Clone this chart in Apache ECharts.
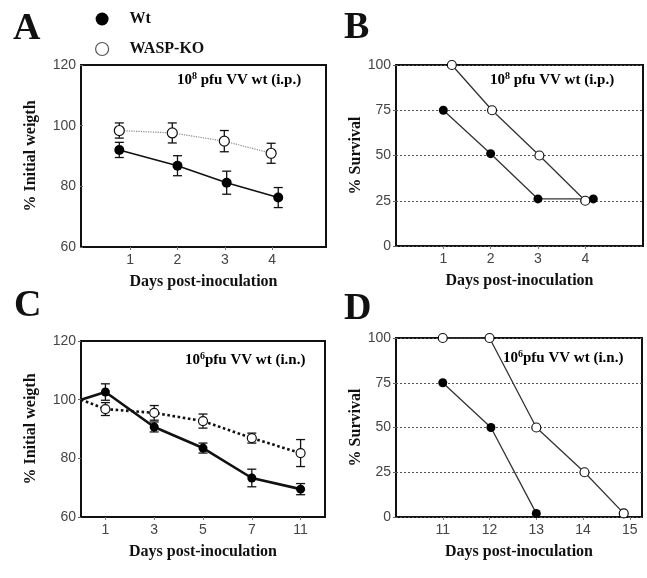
<!DOCTYPE html>
<html>
<head>
<meta charset="utf-8">
<script src="https://cdn.jsdelivr.net/npm/echarts@6/dist/echarts.min.js"></script>
<style>
  html, body { margin: 0; padding: 0; background: #fff; }
  #chart { width: 647px; height: 578px; }
</style>
</head>
<body>
<div id="chart"></div>
<script>
// panel A: weight after i.p. infection (x positions are slightly offset in the figure)
const aTicks = [1, 2, 3, 4];
const aWtX = [0.77, 2.0, 3.04, 4.13];
const aWtMean = [92.0, 86.8, 81.2, 76.3];
const aWtErr = [2.5, 3.3, 3.8, 3.3];
const aKoX = [0.77, 1.89, 2.99, 3.98];
const aKoMean = [98.4, 97.6, 94.9, 90.9];
const aKoErr = [2.5, 3.3, 3.5, 3.3];

// panel B: survival after i.p. infection
const bTicks = [1, 2, 3, 4];
const bWtX = [1.0, 2.0, 3.0, 4.17];
const bWtSurv = [75, 51, 26, 26];
const bKoX = [1.18, 2.03, 3.03, 4.0];
const bKoSurv = [100, 75, 50, 25];

// panel C: weight after i.n. infection (first position = start of the curve, day 0)
const cTickLabels = ["1", "3", "5", "7", "11"];
const cPos = [0.5, 1, 2, 3, 4, 5];
const cWtMean = [100, 102.6, 90.7, 83.5, 73.3, 69.5];
const cWtErr = [0, 2.8, 1.7, 1.7, 3.0, 1.9];
const cKoMean = [100, 96.8, 95.5, 92.7, 86.9, 81.8];
const cKoErr = [0, 2.2, 2.5, 2.4, 1.7, 4.6];

// panel D: survival after i.n. infection
const dTicks = [11, 12, 13, 14, 15];
const dWtX = [11, 12.03, 13];
const dWtSurv = [75, 50, 2];
const dKoX = [11, 12, 13, 14.03, 14.87];
const dKoSurv = [100, 100, 50, 25, 2];

const notes = [
  { sup: "8", pre: "10", post: " pfu VV wt (i.p.)" },
  { sup: "6", pre: "10", post: "pfu VV wt (i.n.)" },
];

const serif = "Liberation Serif";
const sans = "Liberation Sans";

const chart = echarts.init(document.getElementById("chart"));

function pairs(xs, ys) {
  return xs.map((x, i) => [x, ys[i]]);
}
function bars(xs, means, errs) {
  return xs.map((x, i) => [x, means[i] - errs[i], means[i] + errs[i]]);
}

function errorSeries(idx, data) {
  return {
    type: "custom",
    xAxisIndex: idx,
    yAxisIndex: idx,
    silent: true,
    z: 2,
    data: data,
    encode: { x: 0, y: [1, 2] },
    renderItem(params, api) {
      const x = api.value(0);
      const lo = api.value(1);
      const hi = api.value(2);
      if (lo === hi) return null;
      const p1 = api.coord([x, hi]);
      const p2 = api.coord([x, lo]);
      const w = 4.5;
      const st = { stroke: "#111", lineWidth: 1.3 };
      return {
        type: "group",
        children: [
          { type: "line", shape: { x1: p1[0], y1: p1[1], x2: p2[0], y2: p2[1] }, style: st },
          { type: "line", shape: { x1: p1[0] - w, y1: p1[1], x2: p1[0] + w, y2: p1[1] }, style: st },
          { type: "line", shape: { x1: p2[0] - w, y1: p2[1], x2: p2[0] + w, y2: p2[1] }, style: st },
        ],
      };
    },
  };
}

function lineSeries(idx, name, data, opts) {
  const ko = name === "WASP-KO";
  return {
    type: "line",
    name: name,
    xAxisIndex: idx,
    yAxisIndex: idx,
    data: data,
    z: 3,
    symbol: "circle",
    symbolSize: opts.size || 9,
    animation: false,
    lineStyle: {
      color: opts.color || "#222",
      width: opts.width || 1.3,
      type: opts.dash ? "dotted" : "solid",
    },
    itemStyle: {
      color: ko ? "#fff" : "#000",
      borderColor: "#111",
      borderWidth: ko ? 1.2 : 0,
    },
    emphasis: { disabled: true },
  };
}

function xAxis(idx, min, max, ticks, fmt) {
  return {
    type: "value",
    gridIndex: idx,
    min: min,
    max: max,
    name: "Days post-inoculation",
    nameLocation: "middle",
    nameGap: 27,
    nameTextStyle: { fontFamily: serif, fontWeight: "bold", fontSize: 16, color: "#111" },
    axisLine: { show: false },
    axisTick: { show: true, length: 3, customValues: ticks, lineStyle: { color: "#777" } },
    splitLine: { show: false },
    axisLabel: {
      customValues: ticks,
      margin: 6,
      fontFamily: sans,
      fontSize: 14,
      color: "#444",
      formatter: fmt,
    },
  };
}

function yAxis(idx, min, max, interval, name, gap, grid) {
  return {
    type: "value",
    gridIndex: idx,
    min: min,
    max: max,
    interval: interval,
    name: name,
    nameLocation: "middle",
    nameGap: gap,
    nameTextStyle: { fontFamily: serif, fontWeight: "bold", fontSize: 16, color: "#111" },
    axisLine: { show: false },
    axisTick: { show: true, length: 3, lineStyle: { color: "#666" } },
    axisLabel: { margin: 5, fontFamily: sans, fontSize: 14, color: "#444" },
    splitLine: {
      show: grid,
      lineStyle: { color: "#555", type: [2, 2], width: 1 },
    },
  };
}

function noteText(n, left, top) {
  return {
    type: "text",
    left: left,
    top: top,
    style: {
      text: "{n|" + n.pre + "}{s|" + n.sup + "}{n|" + n.post + "}",
      rich: {
        n: { fontFamily: serif, fontWeight: "bold", fontSize: 15, color: "#111", lineHeight: 18 },
        s: { fontFamily: serif, fontWeight: "bold", fontSize: 10, color: "#111", verticalAlign: "top", lineHeight: 12 },
      },
    },
  };
}

function letter(t, left, top) {
  return {
    type: "text",
    left: left,
    top: top,
    style: { text: t, fontFamily: serif, fontWeight: "bold", fontSize: 38, fill: "#111" },
  };
}

const box = { show: true, borderColor: "#111", borderWidth: 2, backgroundColor: "transparent" };

chart.setOption({
  animation: false,
  legend: {
    data: [
      { name: "Wt", itemStyle: { color: "#000", borderWidth: 0 } },
      { name: "WASP-KO", itemStyle: { color: "#fff", borderColor: "#555", borderWidth: 1.2 } },
    ],
    icon: "circle",
    orient: "vertical",
    left: 95,
    top: 11,
    padding: 0,
    itemWidth: 13,
    itemHeight: 13,
    itemGap: 14,
    selectedMode: false,
    textStyle: { fontFamily: serif, fontWeight: "bold", fontSize: 16, color: "#111", padding: [0, 0, 0, 16] },
  },
  grid: [
    Object.assign({ left: 81, top: 65, width: 245, height: 182 }, box),
    Object.assign({ left: 396, top: 65, width: 247, height: 181 }, box),
    Object.assign({ left: 81, top: 341, width: 244, height: 176 }, box),
    Object.assign({ left: 396, top: 338, width: 246, height: 179 }, box),
  ],
  xAxis: [
    xAxis(0, -0.04, 5.14, aTicks),
    xAxis(1, 0, 5.22, bTicks),
    xAxis(2, 0.5, 5.5, [1, 2, 3, 4, 5], (v) => cTickLabels[Math.round(v) - 1] || ""),
    xAxis(3, 10, 15.26, dTicks),
  ],
  yAxis: [
    yAxis(0, 60, 120, 20, "% Initial weigth", 42, false),
    yAxis(1, 0, 100, 25, "% Survival", 30, true),
    yAxis(2, 60, 120, 20, "% Initial weigth", 42, false),
    yAxis(3, 0, 100, 25, "% Survival", 30, true),
  ],
  series: [
    errorSeries(0, bars(aWtX, aWtMean, aWtErr)),
    errorSeries(0, bars(aKoX, aKoMean, aKoErr)),
    lineSeries(0, "Wt", pairs(aWtX, aWtMean), { width: 1.6, color: "#111", size: 10 }),
    lineSeries(0, "WASP-KO", pairs(aKoX, aKoMean), { width: 1.2, color: "#888", dash: true, size: 10 }),

    lineSeries(1, "Wt", pairs(bWtX, bWtSurv), { width: 1.3, color: "#333" }),
    lineSeries(1, "WASP-KO", pairs(bKoX, bKoSurv), { width: 1.3, color: "#333" }),

    errorSeries(2, bars(cPos, cWtMean, cWtErr)),
    errorSeries(2, bars(cPos, cKoMean, cKoErr)),
    lineSeries(2, "Wt",
      pairs(cPos, cWtMean).map((p, i) => (i === 0 ? { value: p, symbol: "none" } : p)),
      { width: 2.6, color: "#111", size: 9 }),
    lineSeries(2, "WASP-KO",
      pairs(cPos, cKoMean).map((p, i) => (i === 0 ? { value: p, symbol: "none" } : p)),
      { width: 2.6, color: "#111", dash: true, size: 9 }),

    lineSeries(3, "Wt", pairs(dWtX, dWtSurv), { width: 1.3, color: "#333" }),
    lineSeries(3, "WASP-KO", pairs(dKoX, dKoSurv), { width: 1.3, color: "#333" }),
  ],
  graphic: [
    letter("A", 13, 10),
    letter("B", 344, 9),
    letter("C", 14, 287),
    letter("D", 344, 290),
    noteText(notes[0], 177, 71),
    noteText(notes[0], 490, 71),
    noteText(notes[1], 185, 351),
    noteText(notes[1], 503, 349),
  ],
});
</script>
</body>
</html>
